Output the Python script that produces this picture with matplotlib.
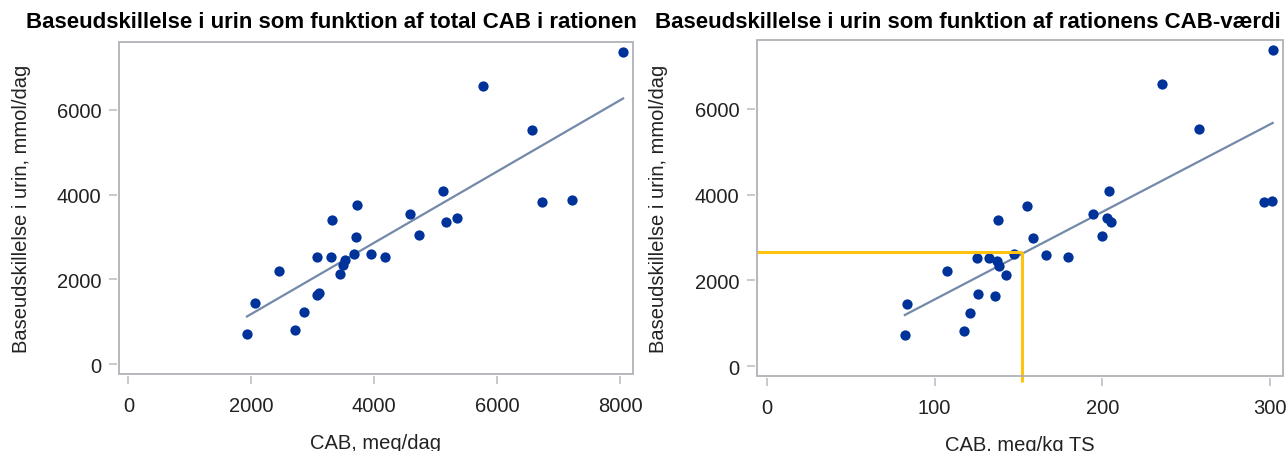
import numpy as np
import matplotlib
matplotlib.use("Agg")
import matplotlib.pyplot as plt
from matplotlib.patches import Rectangle

plt.rcParams['font.family'] = ['Liberation Sans', 'DejaVu Sans']

# base excretion in urine, mmol/dag (same cows in both panels)
urine = [719, 1438, 2208, 809, 1243, 1634, 1673, 2525, 2525, 3400, 2130, 2341,
         2454, 2607, 2998, 3744, 2588, 2540, 3548, 3036, 4095, 3357, 3455,
         6570, 5526, 3834, 3862, 7370]
# total CAB, meq/dag
cab_total = [1929, 2064, 2445, 2714, 2849, 3073, 3095, 3073, 3292, 3309, 3438,
             3488, 3522, 3667, 3695, 3712, 3948, 4166, 4581, 4727, 5120, 5164,
             5338, 5770, 6572, 6728, 7222, 8046]
# CAB, meq/kg TS
cab_ts = [82.3, 83.6, 107.7, 117.5, 121.0, 136.0, 125.9, 125.6, 132.3, 137.7,
          142.5, 138.4, 137.5, 147.5, 158.8, 155.4, 166.7, 179.6, 194.2, 199.6,
          204.2, 205.0, 202.7, 235.6, 257.9, 296.3, 301.0, 301.5]

# marked reading in right panel
mark_cab = 152
mark_base = 2653

dot_col = '#003399'
fit_col = '#7389aa'
frame_col = '#a8acb0'
yellow = '#ffc20e'

fig = plt.figure(figsize=(12.88, 4.52), dpi=100)
ax1 = fig.add_axes([0.0922, 0.1704, 0.3990, 0.7351])
ax2 = fig.add_axes([0.5877, 0.1659, 0.4082, 0.7434])


def style_axes(ax, xticks, xlabel, ylab_x):
    for s in ax.spines.values():
        s.set_visible(False)
    ax.spines['left'].set_position(('outward', 1.5))
    ax.spines['bottom'].set_position(('outward', 1.5))
    ax.add_patch(Rectangle((0, 0), 1, 1, transform=ax.transAxes, fill=False,
                           edgecolor=frame_col, lw=1.2, clip_on=False, zorder=5))
    ax.set_xticks(xticks)
    ax.set_yticks([0, 2000, 4000, 6000])
    ax.tick_params(direction='out', length=5.5, width=1.1, color='#b8bcc0',
                   labelsize=14.5, labelcolor='#222222', pad=5.5,
                   top=False, right=False)
    ax.tick_params(axis='x', pad=9)
    ax.set_xlabel(xlabel, fontsize=14.5, labelpad=13, color='#222222')
    ax.set_ylabel('Baseudskillelse i urin, mmol/dag', fontsize=14.5, color='#222222')
    ax.yaxis.set_label_coords(ylab_x, 0.5)


# left panel
ax1.set_xlim(-156, 8202)
ax1.set_ylim(-229, 7603)
k, m = np.polyfit(cab_total, urine, 1)
xx = np.array([min(cab_total), max(cab_total)])
ax1.plot(xx, k * xx + m, color=fit_col, lw=1.6, zorder=2)
ax1.plot(cab_total, urine, 'o', color=dot_col, ms=7.4, mec='none', zorder=3)
style_axes(ax1, [0, 2000, 4000, 6000, 8000], 'CAB, meq/dag', -0.171)

# right panel
ax2.set_xlim(-5.8, 307.5)
ax2.set_ylim(-233, 7608)
k2, m2 = np.polyfit(cab_ts, urine, 1)
xx2 = np.array([min(cab_ts), max(cab_ts)])
ax2.plot(xx2, k2 * xx2 + m2, color=fit_col, lw=1.6, zorder=2)
ax2.plot(cab_ts, urine, 'o', color=dot_col, ms=7.4, mec='none', zorder=3)
ax2.plot([ax2.get_xlim()[0], mark_cab], [mark_base, mark_base], color=yellow,
         lw=2.2, zorder=4, solid_capstyle='butt')
ax2.plot([mark_cab, mark_cab], [mark_base, -380], color=yellow, lw=2.2,
         zorder=4, clip_on=False, solid_capstyle='butt')
style_axes(ax2, [0, 100, 200, 300], 'CAB, meq/kg TS', -0.169)

fig.text(331 / 1288, 1 - 22 / 452,
         'Baseudskillelse i urin som funktion af total CAB i rationen',
         ha='center', va='center', fontsize=16, fontweight='bold')
fig.text(968 / 1288, 1 - 22 / 452,
         'Baseudskillelse i urin som funktion af rationens CAB-værdi',
         ha='center', va='center', fontsize=16, fontweight='bold')

fig.savefig('out.png', dpi=100)
